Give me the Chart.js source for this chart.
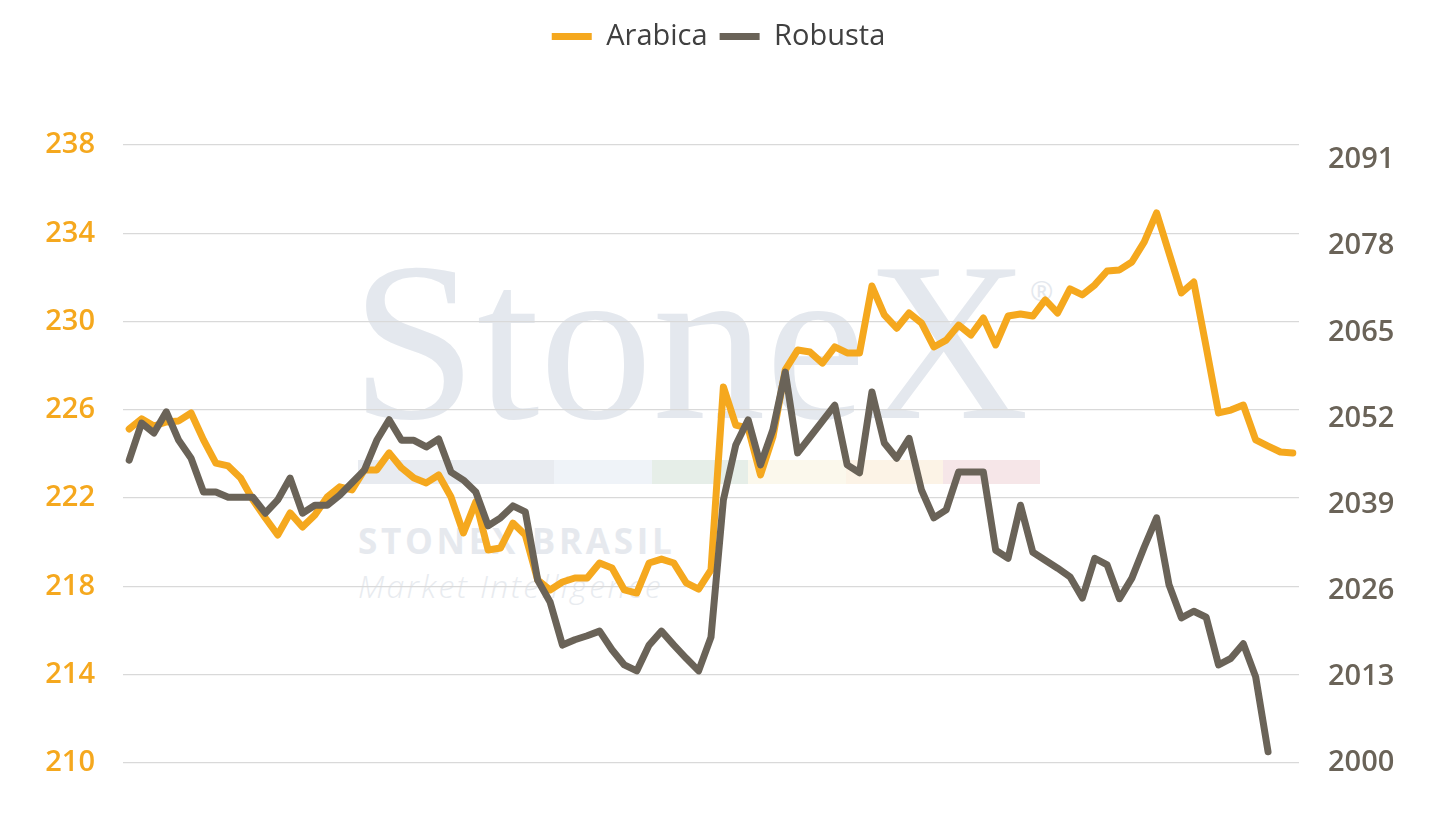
<!DOCTYPE html>
<html>
<head>
<meta charset="utf-8">
<title>Arabica x Robusta</title>
<script src="https://cdn.jsdelivr.net/npm/chart.js@4.4.1/dist/chart.umd.min.js"></script>
<style>
    html, body { margin: 0; padding: 0; background: #fff; }
    #wrap { position: relative; width: 1437px; height: 827px; overflow: hidden; }
    #chart { position: absolute; left: 0; top: 0; z-index: 2; }
    .wm { position: absolute; white-space: nowrap; line-height: 1; z-index: 1; }
    .wm-logo { left: 351px; top: 212px; font: 226px "Liberation Serif", serif; color: #E4E8EE; }
    .wm-reg { left: 1030px; top: 271px; font: 28px "Open Sans", sans-serif; color: #E4E8EE; }
    .wm-bar { left: 358px; top: 460px; width: 682px; height: 24px; display: flex; }
    .wm-bar div { height: 100%; }
    .wm-name { left: 358px; top: 517px; font: 700 35px "Open Sans", sans-serif; letter-spacing: 3.7px; color: #E6E9EE; }
    .wm-sub { left: 358px; top: 564px; font: italic 300 32px "Open Sans", sans-serif; letter-spacing: 2.4px; color: #E8EBEF; }
</style>
</head>
<body>
<div id="wrap">
    <!-- marca d'água -->
    <div class="wm wm-logo">StoneX</div>
    <div class="wm wm-reg">®</div>
    <div class="wm wm-bar">
        <div style="width:196px;background:#E8EBF0"></div>
        <div style="width:98px;background:#EFF3F8"></div>
        <div style="width:96px;background:#E6EEE8"></div>
        <div style="width:98px;background:#FBF8EC"></div>
        <div style="width:97px;background:#FCF3E6"></div>
        <div style="width:97px;background:#F6E6E8"></div>
    </div>
    <div class="wm wm-name">STONEX BRASIL</div>
    <div class="wm wm-sub">Market Intelligence</div>
    <canvas id="chart" width="1437" height="827"></canvas>
</div>

<script>
// Séries
const arabica = [
    225.13, 225.59, 225.27, 225.45, 225.50, 225.86, 224.64, 223.59, 223.46, 222.91,
    221.92, 221.10, 220.33, 221.33, 220.69, 221.24, 222.05, 222.51, 222.37, 223.28,
    223.28, 224.05, 223.37, 222.91, 222.69, 223.05, 222.05, 220.42, 221.83, 219.65,
    219.74, 220.87, 220.33, 218.29, 217.84, 218.20, 218.38, 218.38, 219.06, 218.84,
    217.84, 217.70, 219.06, 219.24, 219.06, 218.16, 217.88, 218.75, 227.04, 225.31,
    225.17, 223.05, 224.77, 227.81, 228.71, 228.62, 228.12, 228.85, 228.58, 228.58,
    231.61, 230.30, 229.70, 230.39, 229.94, 228.85, 229.16, 229.84, 229.39, 230.16,
    228.94, 230.25, 230.34, 230.25, 230.98, 230.39, 231.48, 231.21, 231.66, 232.29,
    232.34, 232.70, 233.61, 234.92, 233.11, 231.30, 231.79, 228.85, 225.86, 225.99,
    226.22, 224.64, 224.36, 224.09, 224.05
];

const robusta = [
    2045.7, 2051.3, 2049.8, 2053.0, 2048.7, 2046.0, 2040.9, 2040.9, 2040.1, 2040.1,
    2040.1, 2037.7, 2039.7, 2043.0, 2037.7, 2038.9, 2038.9, 2040.4, 2042.3, 2044.2,
    2048.7, 2051.8, 2048.7, 2048.7, 2047.7, 2048.9, 2043.9, 2042.7, 2040.9, 2035.8,
    2037.0, 2038.8, 2037.9, 2027.6, 2024.3, 2017.8, 2018.6, 2019.2, 2019.9, 2017.1,
    2014.8, 2013.9, 2017.8, 2019.9, 2017.8, 2015.8, 2013.9, 2019.0, 2039.7, 2048.0,
    2051.8, 2045.0, 2050.3, 2059.0, 2046.8, 2049.2, 2051.6, 2054.0, 2045.0, 2043.8,
    2056.0, 2048.3, 2046.0, 2049.0, 2041.2, 2037.0, 2038.2, 2043.9, 2043.9, 2043.9,
    2032.1, 2030.9, 2038.9, 2031.8, 2030.6, 2029.4, 2028.1, 2024.9, 2030.9, 2029.9,
    2024.8, 2027.9, 2032.6, 2037.0, 2026.9, 2021.9, 2022.9, 2022.0, 2014.8, 2015.8,
    2018.0, 2013.0, 2001.7
];

// Eixos
const arabicaTicks = [210, 214, 218, 222, 226, 230, 234, 238];
const robustaTicks = [2000, 2013, 2026, 2039, 2052, 2065, 2078, 2091];

// Pregões (sem rótulo no gráfico original)
const days = arabica.map((_, i) => String(i + 1));

const ARABICA_COLOR = '#F5A81E';
const ROBUSTA_COLOR = '#6A6358';

// espaço extra abaixo da legenda
let legendExtra = 60;

const legendSpacer = {
    id: 'legendSpacer',
    beforeInit(chart) {
        const fit = chart.legend.fit;
        chart.legend.fit = function() {
            fit.bind(chart.legend)();
            this.height += legendExtra;
        };
    }
};

const ctx = document.getElementById('chart');

const chart = new Chart(ctx, {
    type: 'line',
    data: {
        labels: days,
        datasets: [{
            label: 'Arabica',
            data: arabica,
            yAxisID: 'yArabica',
            borderColor: ARABICA_COLOR,
            backgroundColor: ARABICA_COLOR,
            borderWidth: 7,
            borderCapStyle: 'round',
            borderJoinStyle: 'round',
            pointRadius: 0,
            tension: 0,
            order: 2
        }, {
            label: 'Robusta',
            data: robusta,
            yAxisID: 'yRobusta',
            borderColor: ROBUSTA_COLOR,
            backgroundColor: ROBUSTA_COLOR,
            borderWidth: 7,
            borderCapStyle: 'round',
            borderJoinStyle: 'round',
            pointRadius: 0,
            tension: 0,
            order: 1
        }]
    },
    options: {
        responsive: false,
        animation: false,
        layout: {
            padding: { top: 10, bottom: 64, left: 0, right: 0 }
        },
        plugins: {
            legend: {
                position: 'top',
                labels: {
                    usePointStyle: true,
                    pointStyle: 'line',
                    pointStyleWidth: 40,
                    color: '#404040',
                    padding: 12,
                    font: { family: '"Open Sans", sans-serif', size: 29 },
                    sort: (a, b) => a.datasetIndex - b.datasetIndex
                }
            },
            tooltip: { enabled: false }
        },
        scales: {
            x: {
                type: 'category',
                display: false,
                offset: true
            },
            yArabica: {
                position: 'left',
                min: 210,
                max: 238,
                afterBuildTicks: scale => {
                    scale.ticks = arabicaTicks.map(v => ({ value: v }));
                },
                afterFit: scale => { scale.width = 123; },
                border: { display: false },
                grid: {
                    color: '#D9D9D9',
                    lineWidth: 1.3,
                    drawTicks: false
                },
                ticks: {
                    color: ARABICA_COLOR,
                    padding: 28,
                    font: { family: '"Open Sans", sans-serif', size: 29, weight: '600' },
                    callback: value => String(value)
                }
            },
            yRobusta: {
                position: 'right',
                min: 2000,
                max: 2093.27,
                afterBuildTicks: scale => {
                    scale.ticks = robustaTicks.map(v => ({ value: v }));
                },
                afterFit: scale => { scale.width = 138; },
                border: { display: false },
                grid: { display: false, drawTicks: false },
                ticks: {
                    color: ROBUSTA_COLOR,
                    padding: 29,
                    font: { family: '"Open Sans", sans-serif', size: 29, weight: '600' },
                    callback: value => String(value)
                }
            }
        }
    },
    plugins: [legendSpacer]
});

// ajusta a área do gráfico ao topo da grade (y = 145)
const diff = 145 - chart.chartArea.top;
if (Math.abs(diff) > 0.5) {
    legendExtra += diff;
    chart.update('none');
}
</script>
</body>
</html>
